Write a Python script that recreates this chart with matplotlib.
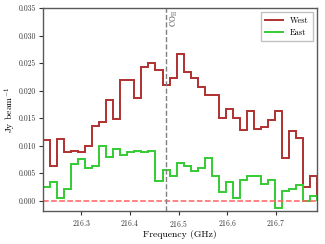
import numpy as np
import matplotlib
matplotlib.use('Agg')
import matplotlib.pyplot as plt

plt.rcParams['font.family'] = 'serif'
plt.rcParams['font.serif'] = ['cmr10', 'DejaVu Serif']
plt.rcParams['mathtext.fontset'] = 'cm'
plt.rcParams['axes.formatter.use_mathtext'] = True

# channel grid (GHz) and spectra (Jy/beam)
freq_min, freq_max = 216.2218, 216.7845
west = [0.0111, 0.0063, 0.0112, 0.0089, 0.0090, 0.0088, 0.0100, 0.0136, 0.0143, 0.0182,
        0.0149, 0.0220, 0.0220, 0.0186, 0.0242, 0.0251, 0.0237, 0.0211, 0.0222, 0.0266,
        0.0233, 0.0222, 0.0206, 0.0192, 0.0192, 0.0151, 0.0167, 0.0150, 0.0128, 0.0163,
        0.0131, 0.0133, 0.0147, 0.0162, 0.0078, 0.0127, 0.0113, 0.0024, 0.0045]
east = [0.0024, 0.0034, 0.0004, 0.0021, 0.0066, 0.0075, 0.0060, 0.0062, 0.0100, 0.0080,
        0.0093, 0.0082, 0.0088, 0.0090, 0.0088, 0.0090, 0.0035, 0.0055, 0.0044, 0.0068,
        0.0063, 0.0054, 0.0059, 0.0078, 0.0045, 0.0015, 0.0033, 0.0005, 0.0037, 0.0044,
        0.0045, 0.0031, 0.0037, -0.0013, 0.0018, 0.0022, 0.0029, -0.0001, 0.0008]
line_freq = 216.4749
line_label = r'CO$_{\rm H}$'

edges = np.linspace(freq_min, freq_max, len(west) + 1)

fig = plt.figure(figsize=(3.25, 2.44), dpi=100)
ax = fig.add_axes([0.133, 0.135, 0.842, 0.832])

ax.stairs(west, edges, color='#b03030', lw=1.4, label='West')
ax.stairs(east, edges, color='#33cc33', lw=1.4, label='East')
ax.axhline(0, color='#ff6060', ls='--', lw=1.1)
ax.axvline(line_freq, color='gray', ls='--', lw=1.0)
ax.text(line_freq + 0.004, 0.0347, line_label, rotation=90, va='top', ha='left',
        fontsize=5.5, color='0.3')

ax.set_xlim(freq_min, freq_max)
ax.set_ylim(-0.0019, 0.035)
ax.set_xticks([216.3, 216.4, 216.5, 216.6, 216.7])
ax.set_yticks(np.arange(0, 0.0351, 0.005))
ax.yaxis.set_major_formatter(matplotlib.ticker.FormatStrFormatter('%.3f'))
ax.tick_params(labelsize=5.5, length=3, width=0.8, colors='0.2', pad=2)
for s in ax.spines.values():
    s.set_color('0.35')
    s.set_linewidth(1.0)

ax.set_xlabel('Frequency (GHz)', fontsize=7, labelpad=1)
ax.set_ylabel(r'Jy beam$^{-1}$', fontsize=7, labelpad=1)
ax.legend(loc='upper right', fontsize=6, handlelength=2.2, borderpad=0.5,
          labelspacing=0.4, fancybox=False, edgecolor='0.7')

fig.savefig('out.png', dpi=100)
